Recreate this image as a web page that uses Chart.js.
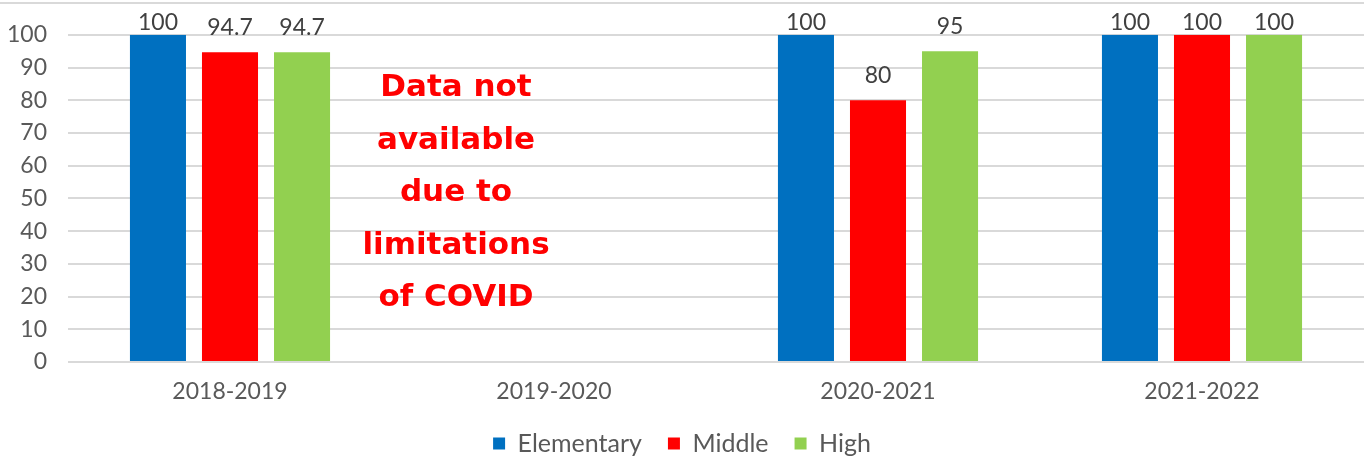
<!DOCTYPE html>
<html>
<head>
<meta charset="utf-8">
<script src="https://cdn.jsdelivr.net/npm/chart.js@4"></script>
<style>
  html, body { margin: 0; padding: 0; background: #fff; }
  #wrap { position: relative; width: 1364px; height: 460px; }
</style>
</head>
<body>
<div id="wrap"><canvas id="chart" width="1364" height="460"></canvas></div>
<script>
const years = ['2018-2019', '2019-2020', '2020-2021', '2021-2022'];
const elementary = [100, null, 100, 100];
const middle = [94.7, null, 80, 100];
const high = [94.7, null, 95, 100];
const yTicks = [0, 10, 20, 30, 40, 50, 60, 70, 80, 90, 100];
const noteLines = ['Data not', 'available', 'due to', 'limitations', 'of COVID'];

const font = 'Lato, "DejaVu Sans", sans-serif';

// value labels above the bars, kept inside the top of the canvas
const barLabels = {
  id: 'barLabels',
  afterDatasetsDraw(chart) {
    const ctx = chart.ctx;
    ctx.save();
    ctx.font = '23px ' + font;
    ctx.fillStyle = '#404040';
    ctx.textAlign = 'center';
    ctx.textBaseline = 'bottom';
    chart.data.datasets.forEach((ds, i) => {
      chart.getDatasetMeta(i).data.forEach((bar, j) => {
        const v = ds.data[j];
        if (v == null) return;
        const y = Math.max(bar.y - 13, 34);
        ctx.fillText(String(v), bar.x, y);
      });
    });
    ctx.restore();
  }
};

// "data not available" note placed over the empty year
const note = {
  id: 'note',
  beforeLayout(chart) {
    // legend keeps its wide spacing but takes less height
    const lg = chart.legend;
    if (lg && !lg._short) {
      const fit = lg.fit.bind(lg);
      lg.fit = function () { fit(); this.height = 55; };
      lg._short = true;
    }
  },
  beforeDraw(chart) {
    const ctx = chart.ctx;
    ctx.save();
    ctx.fillStyle = '#d9d9d9';
    ctx.fillRect(0, 2, chart.width, 2);
    ctx.restore();
  },
  afterDatasetsDraw(chart) {
    const ctx = chart.ctx;
    const x = chart.scales.x.getPixelForValue(1) - 98;
    ctx.save();
    ctx.font = 'bold 31px "DejaVu Sans", sans-serif';
    ctx.fillStyle = '#ff0000';
    ctx.textAlign = 'center';
    ctx.textBaseline = 'middle';
    noteLines.forEach((t, i) => ctx.fillText(t, x, 88 + i * 52.5));
    ctx.restore();
  }
};

new Chart(document.getElementById('chart'), {
  type: 'bar',
  data: {
    labels: years,
    datasets: [
      { label: 'Elementary', data: elementary, backgroundColor: '#0070C0' },
      { label: 'Middle', data: middle, backgroundColor: '#FF0000' },
      { label: 'High', data: high, backgroundColor: '#92D050' }
    ]
  },
  options: {
    responsive: false,
    animation: false,
    devicePixelRatio: 1,
    categoryPercentage: 0.667,
    barPercentage: 0.778,
    layout: { padding: { top: 33, right: 0, bottom: 0, left: 0 } },
    scales: {
      x: {
        afterFit(scale) { scale.height = 43; },
        grid: { display: false, drawTicks: false },
        border: { display: false },
        ticks: { color: '#595959', font: { family: font, size: 23 }, padding: 16 }
      },
      y: {
        min: 0,
        max: 100,
        afterBuildTicks(scale) { scale.ticks = yTicks.map(v => ({ value: v })); },
        afterFit(scale) { scale.width = 68; },
        grid: { color: '#d9d9d9', lineWidth: 2, drawTicks: false },
        border: { display: false },
        ticks: { color: '#595959', font: { family: font, size: 23 }, padding: 21, autoSkip: false }
      }
    },
    plugins: {
      legend: {
        position: 'bottom',
        labels: {
          color: '#595959',
          font: { family: font, size: 25 },
          boxWidth: 12,
          boxHeight: 12,
          padding: 26
        }
      },
      tooltip: { enabled: false }
    }
  },
  plugins: [barLabels, note]
});
</script>
</body>
</html>
